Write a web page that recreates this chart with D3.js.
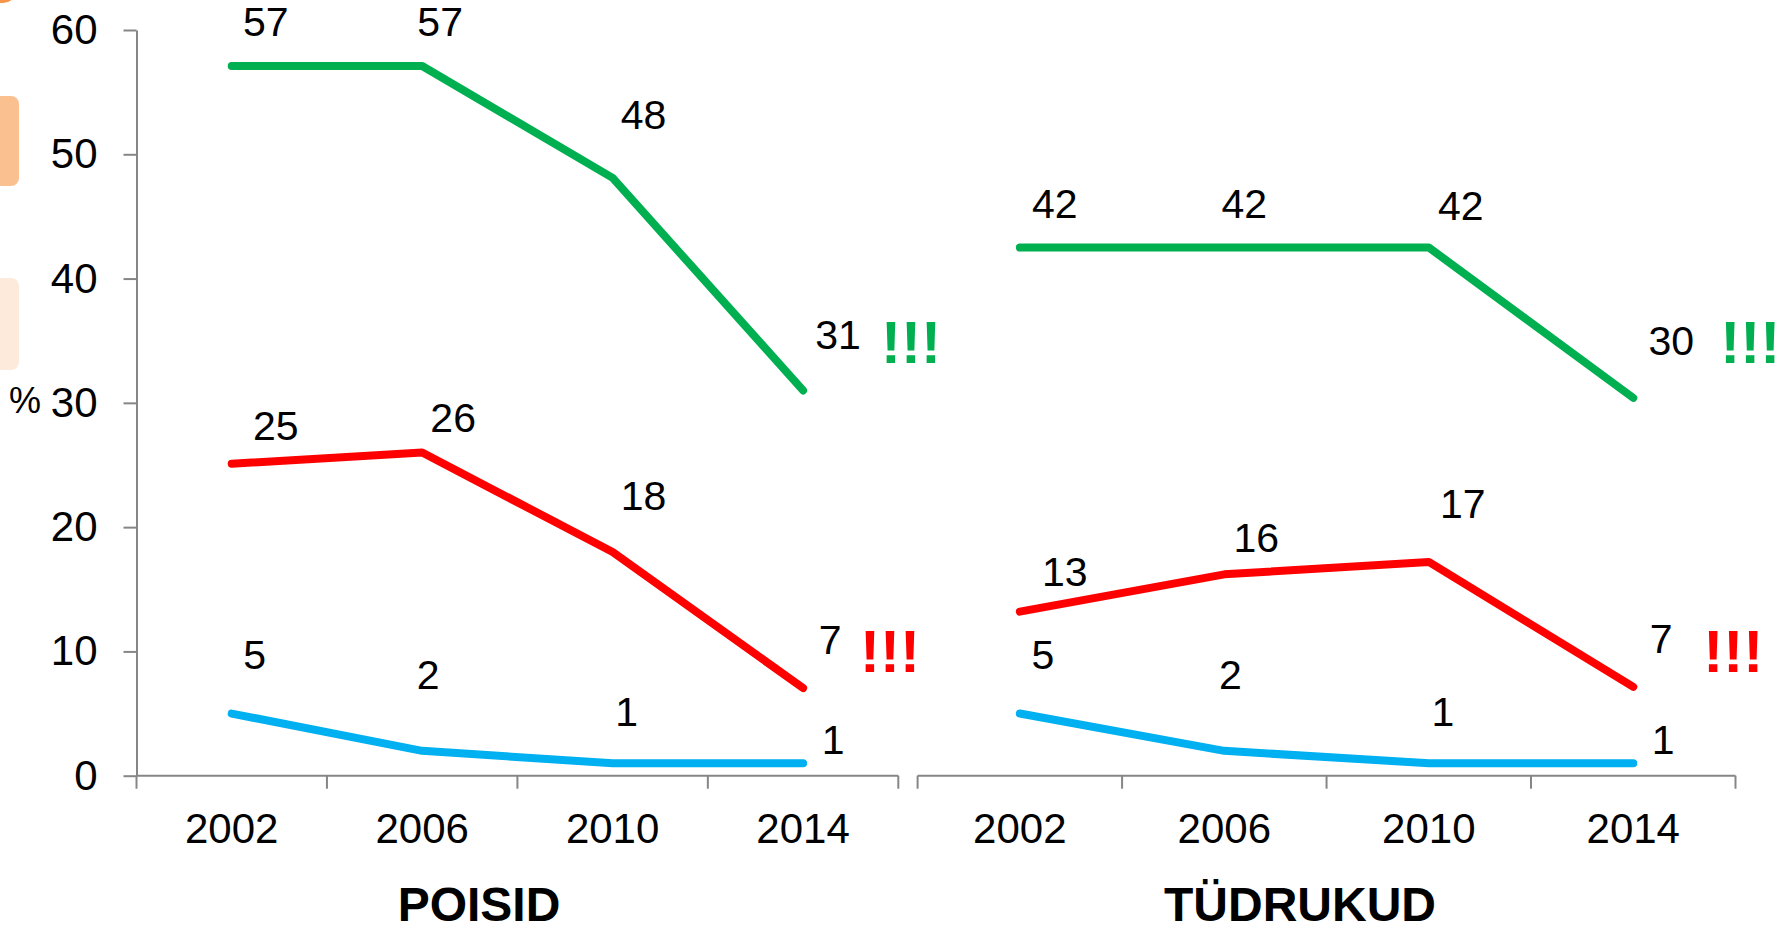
<!DOCTYPE html>
<html>
<head>
<meta charset="utf-8">
<script src="https://cdn.jsdelivr.net/npm/d3@7"></script>
<style>
  body { margin: 0; background: #fff; }
  text { font-family: "Liberation Sans", Arial, sans-serif; fill: #000; }
  .axis path, .axis line { stroke: #868686; stroke-width: 2; }
  .axis text { font-size: 42px; }
  .lbl { font-size: 41px; }
  .title { font-weight: bold; font-size: 48px; }
  .bang { font-weight: bold; font-size: 60px; }
  .pct { font-size: 36px; }
</style>
</head>
<body>
<div class="chart"></div>
<script>
// data
let years = ["2002", "2006", "2010", "2014"];
let yTicks = [0, 10, 20, 30, 40, 50, 60];
let panelNames = ["POISID", "TÜDRUKUD"];

let boysGreen = [57.1, 57.1, 48.1, 31.0];
let boysRed = [25.1, 26.0, 18.0, 7.05];
let boysBlue = [5.0, 2.0, 1.0, 1.0];
let girlsGreen = [42.5, 42.5, 42.5, 30.4];
let girlsRed = [13.2, 16.2, 17.2, 7.15];
let girlsBlue = [5.0, 2.0, 1.0, 1.0];

let boysGreenLbl = ["57", "57", "48", "31"];
let boysRedLbl = ["25", "26", "18", "7"];
let boysBlueLbl = ["5", "2", "1", "1"];
let girlsGreenLbl = ["42", "42", "42", "30"];
let girlsRedLbl = ["13", "16", "17", "7"];
let girlsBlueLbl = ["5", "2", "1", "1"];

let colors = { green: "#00B050", red: "#FF0000", blue: "#00B0F0" };

// label nudges (px from the point to the label centre)
let nudge = {
  boysGreen: [[34, -44], [18, -44], [31, -63], [35, -55]],
  boysRed: [[44, -38], [31, -35], [31, -56], [27, -48]],
  blue: [[23, -59], [6, -76], [14, -51], [30, -23]],
  girlsGreen: [[35, -43], [20, -43], [32, -41], [38, -57]],
  girlsRed: [[45, -40], [32, -36], [34, -58], [28, -48]]
};

let svgWidth = 1783;
let svgHeight = 930;

let svg = d3.select(".chart")
  .append("svg")
  .attr("width", svgWidth)
  .attr("height", svgHeight);

// orange bits cut off at the left edge
svg.append("rect").attr("x", -30).attr("y", -40).attr("width", 47).attr("height", 43)
  .attr("rx", 14).attr("fill", "#F79646");
svg.append("rect").attr("x", -30).attr("y", 96).attr("width", 49).attr("height", 90)
  .attr("rx", 8).attr("fill", "#FAC090");
svg.append("rect").attr("x", -30).attr("y", 278).attr("width", 49).attr("height", 92)
  .attr("rx", 8).attr("fill", "#FDEADA");

let y = d3.scaleLinear().domain([0, 60]).range([775.7, 30]);

let panels = [
  { x0: 136.5, x1: 898.3, green: boysGreen, red: boysRed, blue: boysBlue,
    gl: boysGreenLbl, rl: boysRedLbl, bl: boysBlueLbl,
    gn: nudge.boysGreen, rn: nudge.boysRed, titleX: 479,
    bangG: [108, -27], bangR: [87, -16] },
  { x0: 917.6, x1: 1735.5, green: girlsGreen, red: girlsRed, blue: girlsBlue,
    gl: girlsGreenLbl, rl: girlsRedLbl, bl: girlsBlueLbl,
    gn: nudge.girlsGreen, rn: nudge.girlsRed, titleX: 1300,
    bangG: [117, -35], bangR: [100, -15] }
];

// y axis
svg.append("g")
  .attr("class", "axis")
  .attr("transform", "translate(136.5,0)")
  .call(d3.axisLeft(y).tickValues(yTicks).tickSize(13).tickSizeOuter(0).tickPadding(26))
  .call(g => g.selectAll("text").attr("font-family", null).attr("font-size", null));

svg.append("text")
  .attr("class", "pct")
  .attr("x", 25)
  .attr("y", 413)
  .attr("text-anchor", "middle")
  .text("%");

panels.forEach(function(p, pi) {
  let x = d3.scaleBand().domain(years).range([p.x0, p.x1]);

  // x axis: labels at band centres, ticks at band edges
  let xAxis = svg.append("g")
    .attr("class", "axis")
    .attr("transform", `translate(0, ${y(0)})`)
    .call(d3.axisBottom(x).tickSize(0).tickPadding(37).tickSizeOuter(0));
  xAxis.select(".domain").remove();
  xAxis.selectAll("text").attr("font-family", null).attr("font-size", null);

  let edges = years.map(d => x(d)).concat([x.range()[1]]);
  xAxis.append("line")
    .attr("x1", p.x0).attr("x2", p.x1)
    .attr("y1", 0).attr("y2", 0);
  xAxis.selectAll(".edge")
    .data(edges)
    .enter()
    .append("line")
    .attr("class", "edge")
    .attr("x1", d => d).attr("x2", d => d)
    .attr("y1", 0).attr("y2", 13);

  let cx = d => x(d) + x.bandwidth() / 2;
  let line = d3.line()
    .x((d, i) => cx(years[i]))
    .y(d => y(d));

  let series = [
    { vals: p.green, lbls: p.gl, color: colors.green, nd: p.gn },
    { vals: p.red, lbls: p.rl, color: colors.red, nd: p.rn },
    { vals: p.blue, lbls: p.bl, color: colors.blue, nd: nudge.blue }
  ];

  series.forEach(function(s) {
    svg.append("path")
      .datum(s.vals)
      .attr("d", line)
      .attr("fill", "none")
      .attr("stroke", s.color)
      .attr("stroke-width", 8)
      .attr("stroke-linecap", "round")
      .attr("stroke-linejoin", "round");

    svg.append("g").selectAll("text")
      .data(s.vals)
      .enter()
      .append("text")
      .attr("class", "lbl")
      .attr("text-anchor", "middle")
      .attr("x", (d, i) => cx(years[i]) + s.nd[i][0])
      .attr("y", (d, i) => y(d) + s.nd[i][1] + 14)
      .text((d, i) => s.lbls[i]);
  });

  // warning marks next to 2014
  let last = years[years.length - 1];
  svg.append("text")
    .attr("class", "bang")
    .attr("text-anchor", "middle")
    .attr("x", cx(last) + p.bangG[0])
    .attr("y", y(p.green[3]) + p.bangG[1])
    .style("fill", colors.green)
    .text("!!!");
  svg.append("text")
    .attr("class", "bang")
    .attr("text-anchor", "middle")
    .attr("x", cx(last) + p.bangR[0])
    .attr("y", y(p.red[3]) + p.bangR[1])
    .style("fill", colors.red)
    .text("!!!");

  svg.append("text")
    .attr("class", "title")
    .attr("text-anchor", "middle")
    .attr("x", p.titleX)
    .attr("y", 921)
    .text(panelNames[pi]);
});
</script>
</body>
</html>
